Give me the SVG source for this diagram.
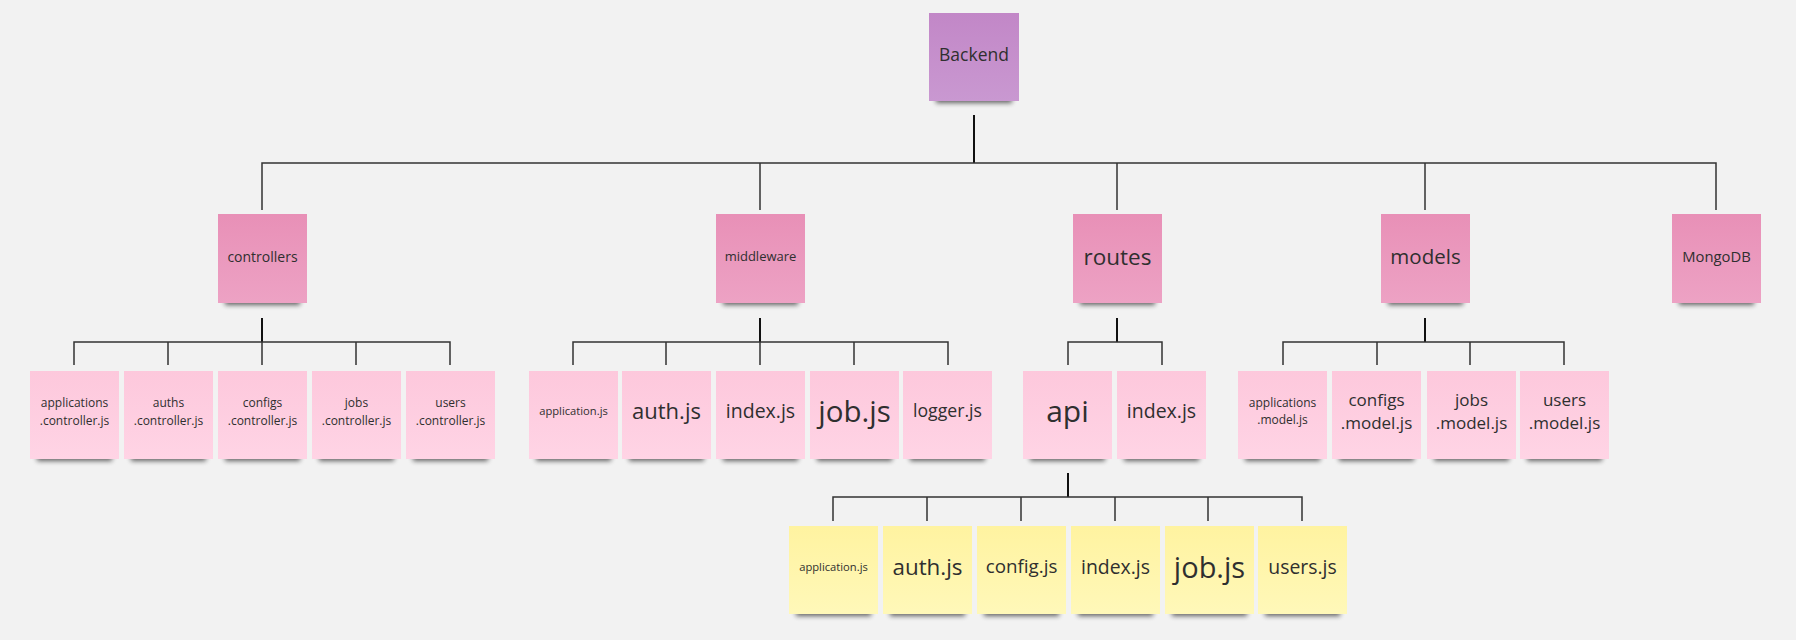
<svg xmlns="http://www.w3.org/2000/svg" width="1796" height="640" viewBox="0 0 1796 640">
<style>
.t{font-family:"Open Sans","Liberation Sans",sans-serif;fill:#2f2f2f;text-anchor:middle;dominant-baseline:central}
.sh{fill:#000;opacity:.6;filter:url(#blur)}
.p0{fill:url(#gPurple)}
.p1{fill:url(#gPink)}
.p2{fill:url(#gLight)}
.p3{fill:url(#gYellow)}
.bus{stroke:#333;stroke-width:1.5;fill:none}
.stub{stroke:#111;stroke-width:2;fill:none}
</style>
<defs>
<filter id="blur" x="-20%" y="-100%" width="140%" height="300%"><feGaussianBlur stdDeviation="2.5"/></filter>
<linearGradient id="gPurple" x1="0" y1="0" x2="0" y2="1"><stop offset="0" stop-color="#c287c7"/><stop offset="1" stop-color="#c998d1"/></linearGradient>
<linearGradient id="gPink" x1="0" y1="0" x2="0" y2="1"><stop offset="0" stop-color="#e890b7"/><stop offset="1" stop-color="#eda2c4"/></linearGradient>
<linearGradient id="gLight" x1="0" y1="0" x2="0" y2="1"><stop offset="0" stop-color="#fdc8dc"/><stop offset="1" stop-color="#ffd4e5"/></linearGradient>
<linearGradient id="gYellow" x1="0" y1="0" x2="0" y2="1"><stop offset="0" stop-color="#fff3a0"/><stop offset="1" stop-color="#fff8b9"/></linearGradient>
</defs>
<rect width="1796" height="640" fill="#f2f2f2"/>

<g id="connectors">
<path class="stub" d="M974 115V163"/>
<path class="bus" d="M262 210V163H1716V210M760 163V210M1117 163V210M1425 163V210"/>
<path class="stub" d="M262 318V342"/>
<path class="bus" d="M74 365V342H450V365M168 342V365M262 342V365M356 342V365"/>
<path class="stub" d="M760 318V342"/>
<path class="bus" d="M573 365V342H948V365M666 342V365M760 342V365M854 342V365"/>
<path class="stub" d="M1117 318V342"/>
<path class="bus" d="M1068 365V342H1162V365"/>
<path class="stub" d="M1425 318V342"/>
<path class="bus" d="M1283 365V342H1564V365M1377 342V365M1470 342V365"/>
<path class="stub" d="M1068 473V497"/>
<path class="bus" d="M833 521V497H1302V521M927 497V521M1021 497V521M1115 497V521M1208 497V521"/>
</g>

<g id="backend"><rect class="sh" x="936" y="93" width="76" height="10"/><rect class="p0" x="929" y="13" width="90" height="88"/><text class="t" x="974" y="54" font-size="17.5">Backend</text></g>

<g id="controllers"><rect class="sh" x="225" y="295" width="75" height="10"/><rect class="p1" x="218" y="214" width="89" height="89"/><text class="t" x="262.5" y="256" font-size="14">controllers</text></g>
<g id="middleware"><rect class="sh" x="723" y="295" width="75" height="10"/><rect class="p1" x="716" y="214" width="89" height="89"/><text class="t" x="760.5" y="256" font-size="13">middleware</text></g>
<g id="routes"><rect class="sh" x="1080" y="295" width="75" height="10"/><rect class="p1" x="1073" y="214" width="89" height="89"/><text class="t" x="1117.5" y="256" font-size="22.5">routes</text></g>
<g id="models"><rect class="sh" x="1388" y="295" width="75" height="10"/><rect class="p1" x="1381" y="214" width="89" height="89"/><text class="t" x="1425.5" y="256" font-size="20.5">models</text></g>
<g id="mongodb"><rect class="sh" x="1679" y="295" width="75" height="10"/><rect class="p1" x="1672" y="214" width="89" height="89"/><text class="t" x="1716.5" y="256" font-size="14.8">MongoDB</text></g>

<g id="applications-controller"><rect class="sh" x="37" y="451" width="75" height="10"/><rect class="p2" x="30" y="371" width="89" height="88"/><text class="t" x="74.5" font-size="12"><tspan x="74.5" y="402">applications</tspan><tspan x="74.5" y="420">.controller.js</tspan></text></g>
<g id="auths-controller"><rect class="sh" x="131" y="451" width="75" height="10"/><rect class="p2" x="124" y="371" width="89" height="88"/><text class="t" x="168.5" font-size="12"><tspan x="168.5" y="402">auths</tspan><tspan x="168.5" y="420">.controller.js</tspan></text></g>
<g id="configs-controller"><rect class="sh" x="225" y="451" width="75" height="10"/><rect class="p2" x="218" y="371" width="89" height="88"/><text class="t" x="262.5" font-size="12"><tspan x="262.5" y="402">configs</tspan><tspan x="262.5" y="420">.controller.js</tspan></text></g>
<g id="jobs-controller"><rect class="sh" x="319" y="451" width="75" height="10"/><rect class="p2" x="312" y="371" width="89" height="88"/><text class="t" x="356.5" font-size="12"><tspan x="356.5" y="402">jobs</tspan><tspan x="356.5" y="420">.controller.js</tspan></text></g>
<g id="users-controller"><rect class="sh" x="413" y="451" width="75" height="10"/><rect class="p2" x="406" y="371" width="89" height="88"/><text class="t" x="450.5" font-size="12"><tspan x="450.5" y="402">users</tspan><tspan x="450.5" y="420">.controller.js</tspan></text></g>

<g id="mw-application"><rect class="sh" x="536" y="451" width="75" height="10"/><rect class="p2" x="529" y="371" width="89" height="88"/><text class="t" x="573.5" y="410" font-size="11.2">application.js</text></g>
<g id="mw-auth"><rect class="sh" x="629" y="451" width="75" height="10"/><rect class="p2" x="622" y="371" width="89" height="88"/><text class="t" x="666.5" y="410" font-size="22">auth.js</text></g>
<g id="mw-index"><rect class="sh" x="723" y="451" width="75" height="10"/><rect class="p2" x="716" y="371" width="89" height="88"/><text class="t" x="760.5" y="410" font-size="19.5">index.js</text></g>
<g id="mw-job"><rect class="sh" x="817" y="451" width="75" height="10"/><rect class="p2" x="810" y="371" width="89" height="88"/><text class="t" x="854.5" y="410" font-size="29.5">job.js</text></g>
<g id="mw-logger"><rect class="sh" x="910" y="451" width="75" height="10"/><rect class="p2" x="903" y="371" width="89" height="88"/><text class="t" x="947.5" y="410" font-size="17.7">logger.js</text></g>

<g id="api"><rect class="sh" x="1030" y="451" width="75" height="10"/><rect class="p2" x="1023" y="371" width="89" height="88"/><text class="t" x="1067.5" y="410" font-size="30">api</text></g>
<g id="routes-index"><rect class="sh" x="1124" y="451" width="75" height="10"/><rect class="p2" x="1117" y="371" width="89" height="88"/><text class="t" x="1161.5" y="410" font-size="19.5">index.js</text></g>

<g id="applications-model"><rect class="sh" x="1245" y="451" width="75" height="10"/><rect class="p2" x="1238" y="371" width="89" height="88"/><text class="t" x="1282.5" font-size="12"><tspan x="1282.5" y="402">applications</tspan><tspan x="1282.5" y="419">.model.js</tspan></text></g>
<g id="configs-model"><rect class="sh" x="1339" y="451" width="75" height="10"/><rect class="p2" x="1332" y="371" width="89" height="88"/><text class="t" x="1376.5" font-size="17"><tspan x="1376.5" y="399">configs</tspan><tspan x="1376.5" y="422">.model.js</tspan></text></g>
<g id="jobs-model"><rect class="sh" x="1434" y="451" width="75" height="10"/><rect class="p2" x="1427" y="371" width="89" height="88"/><text class="t" x="1471.5" font-size="17"><tspan x="1471.5" y="399">jobs</tspan><tspan x="1471.5" y="422">.model.js</tspan></text></g>
<g id="users-model"><rect class="sh" x="1527" y="451" width="75" height="10"/><rect class="p2" x="1520" y="371" width="89" height="88"/><text class="t" x="1564.5" font-size="17"><tspan x="1564.5" y="399">users</tspan><tspan x="1564.5" y="422">.model.js</tspan></text></g>

<g id="api-application"><rect class="sh" x="796" y="606" width="75" height="10"/><rect class="p3" x="789" y="526" width="89" height="88"/><text class="t" x="833.5" y="566" font-size="11.2">application.js</text></g>
<g id="api-auth"><rect class="sh" x="890" y="606" width="75" height="10"/><rect class="p3" x="883" y="526" width="89" height="88"/><text class="t" x="927.5" y="566" font-size="22.4">auth.js</text></g>
<g id="api-config"><rect class="sh" x="984" y="606" width="75" height="10"/><rect class="p3" x="977" y="526" width="89" height="88"/><text class="t" x="1021.5" y="566" font-size="18.8">config.js</text></g>
<g id="api-index"><rect class="sh" x="1078" y="606" width="75" height="10"/><rect class="p3" x="1071" y="526" width="89" height="88"/><text class="t" x="1115.5" y="566" font-size="19.4">index.js</text></g>
<g id="api-job"><rect class="sh" x="1172" y="606" width="75" height="10"/><rect class="p3" x="1165" y="526" width="89" height="88"/><text class="t" x="1209.5" y="566" font-size="29">job.js</text></g>
<g id="api-users"><rect class="sh" x="1265" y="606" width="75" height="10"/><rect class="p3" x="1258" y="526" width="89" height="88"/><text class="t" x="1302.5" y="566" font-size="19.4">users.js</text></g>
</svg>
